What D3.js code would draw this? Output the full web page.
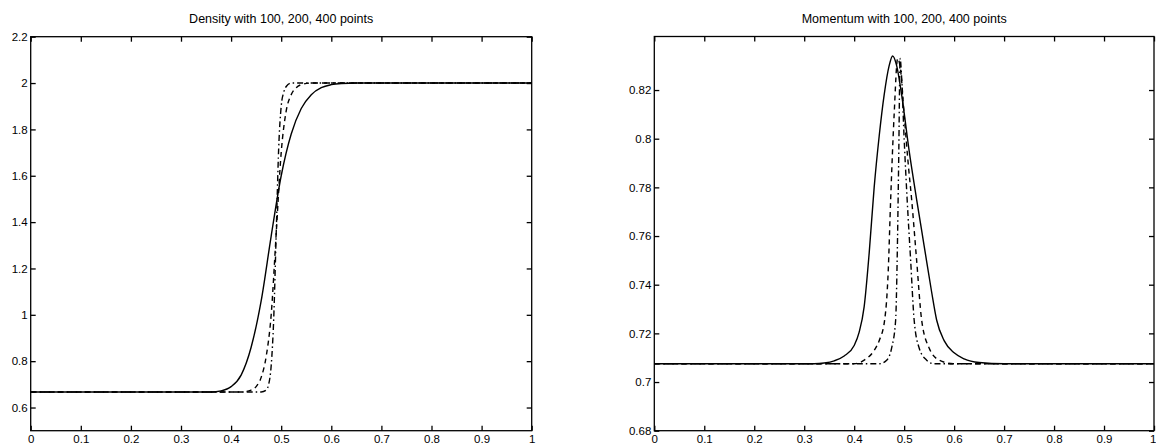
<!DOCTYPE html>
<meta charset='utf-8'>
<head>
  <title>Density and Momentum</title>
  <style>
    body { margin: 0; background: #fff; }
    svg { display: block; font-family: 'Liberation Sans', Arial, sans-serif; }
    .axis path, .axis line { stroke: #000; stroke-width: 1.3; }
    .axis text { fill: #000; font-size: 11.5px; }
    .title { font-size: 12.5px; fill: #000; }
  </style>
</head>
<body>
  <div id='chart'></div>
</body>
<script src='https://d3js.org/d3.v7.min.js'></script>
<script>

var xTicks = [0, 0.1, 0.2, 0.3, 0.4, 0.5, 0.6, 0.7, 0.8, 0.9, 1];

// density, three resolutions
var densityTitle = 'Density with 100, 200, 400 points',
    densityTicks = [0.6, 0.8, 1, 1.2, 1.4, 1.6, 1.8, 2, 2.2];
var density100X = [0, 0.36, 0.38, 0.40, 0.42, 0.44, 0.46, 0.48, 0.50, 0.52, 0.54, 0.56, 0.58, 0.60, 0.62, 0.65, 1],
    density100Y = [0.667, 0.667, 0.672, 0.69, 0.74, 0.86, 1.06, 1.34, 1.60, 1.78, 1.89, 1.95, 1.98, 1.993, 1.998, 2.0, 2.0];
var density200X = [0, 0.42, 0.44, 0.45, 0.46, 0.47, 0.48, 0.49, 0.50, 0.51, 0.52, 0.53, 0.54, 0.56, 1],
    density200Y = [0.667, 0.667, 0.675, 0.69, 0.73, 0.82, 1.0, 1.35, 1.70, 1.88, 1.95, 1.98, 1.993, 2.0, 2.0];
var density400X = [0, 0.46, 0.47, 0.475, 0.48, 0.485, 0.49, 0.495, 0.50, 0.505, 0.51, 0.52, 1],
    density400Y = [0.667, 0.667, 0.675, 0.70, 0.78, 0.98, 1.35, 1.72, 1.90, 1.96, 1.985, 2.0, 2.0];

// momentum, three resolutions
var momentumTitle = 'Momentum with 100, 200, 400 points',
    momentumTicks = [0.68, 0.7, 0.72, 0.74, 0.76, 0.78, 0.8, 0.82];
var momentum100X = [0, 0.32, 0.34, 0.36, 0.38, 0.40, 0.41, 0.42, 0.43, 0.44, 0.45, 0.46, 0.47, 0.477, 0.485, 0.495, 0.51, 0.525, 0.54, 0.555, 0.565, 0.58, 0.60, 0.62, 0.65, 0.70, 1],
    momentum100Y = [0.7075, 0.7075, 0.7078, 0.7087, 0.7107, 0.715, 0.7205, 0.731, 0.753, 0.78, 0.801, 0.818, 0.830, 0.834, 0.830, 0.818, 0.795, 0.775, 0.756, 0.737, 0.7255, 0.717, 0.712, 0.7095, 0.708, 0.7075, 0.7075];
var momentum200X = [0, 0.40, 0.42, 0.44, 0.45, 0.461, 0.468, 0.473, 0.48, 0.487, 0.493, 0.50, 0.508, 0.515, 0.525, 0.535, 0.55, 0.57, 0.60, 1],
    momentum200Y = [0.7075, 0.7075, 0.709, 0.713, 0.717, 0.7255, 0.745, 0.775, 0.81, 0.833, 0.828, 0.81, 0.79, 0.775, 0.75, 0.7255, 0.714, 0.709, 0.7075, 0.7075];
var momentum400X = [0, 0.45, 0.465, 0.475, 0.483, 0.486, 0.489, 0.492, 0.495, 0.50, 0.506, 0.513, 0.52, 0.53, 0.545, 0.56, 1],
    momentum400Y = [0.7075, 0.7075, 0.709, 0.714, 0.7255, 0.75, 0.79, 0.833, 0.825, 0.80, 0.775, 0.75, 0.7255, 0.714, 0.709, 0.7075, 0.7075];

var dashes = [null, '5,4', '6,3,1.5,3'];

var svg = d3.select('#chart').append('svg')
    .attr('width', 1156)
    .attr('height', 446);

function panel(left, right, top, bottom, yDomain, yTicks, title, series) {
  var x = d3.scaleLinear().domain([0, 1]).range([left, right]),
      y = d3.scaleLinear().domain(yDomain).range([bottom, top]),
      fmt = function(d) { return d3.format('~g')(+d.toFixed(4)); };

  var g = svg.append('g');

  var xAxis = g.append('g').attr('class', 'axis')
      .attr('transform', 'translate(0,' + bottom + ')')
      .call(d3.axisBottom(x).tickValues(xTicks).tickSize(-5).tickPadding(4).tickFormat(fmt));
  g.append('g').attr('class', 'axis')
      .attr('transform', 'translate(0,' + top + ')')
      .call(d3.axisTop(x).tickValues(xTicks).tickSize(-5).tickFormat(''));
  g.append('g').attr('class', 'axis')
      .attr('transform', 'translate(' + left + ',0)')
      .call(d3.axisLeft(y).tickValues(yTicks).tickSize(-5).tickPadding(3).tickFormat(fmt));
  g.append('g').attr('class', 'axis')
      .attr('transform', 'translate(' + right + ',0)')
      .call(d3.axisRight(y).tickValues(yTicks).tickSize(-5).tickFormat(''));

  // keep the last x label inside the page
  if (right > 1150) {
    xAxis.selectAll('.tick:last-of-type text')
        .attr('text-anchor', 'end')
        .attr('dx', 2);
  }

  g.selectAll('.axis .domain').attr('d', null);
  g.append('rect')
      .attr('x', left).attr('y', top)
      .attr('width', right - left).attr('height', bottom - top)
      .attr('fill', 'none').attr('stroke', '#000').attr('stroke-width', 1.3);

  var line = d3.line()
      .x(function(d) { return x(d[0]); })
      .y(function(d) { return y(d[1]); })
      .curve(d3.curveMonotoneX);

  series.forEach(function(s, i) {
    g.append('path')
        .datum(d3.zip(s[0], s[1]))
        .attr('d', line)
        .attr('fill', 'none')
        .attr('stroke', '#000')
        .attr('stroke-width', 1.4)
        .attr('stroke-dasharray', dashes[i]);
  });

  g.append('text')
      .attr('class', 'title')
      .attr('x', (left + right) / 2)
      .attr('y', 23)
      .attr('text-anchor', 'middle')
      .text(title);
}

panel(30.7, 531.7, 36.7, 430.7, [0.5, 2.2], densityTicks, densityTitle,
    [[density100X, density100Y], [density200X, density200Y], [density400X, density400Y]]);
panel(654.3, 1154, 36.5, 430.7, [0.68, 0.842], momentumTicks, momentumTitle,
    [[momentum100X, momentum100Y], [momentum200X, momentum200Y], [momentum400X, momentum400Y]]);

</script>
